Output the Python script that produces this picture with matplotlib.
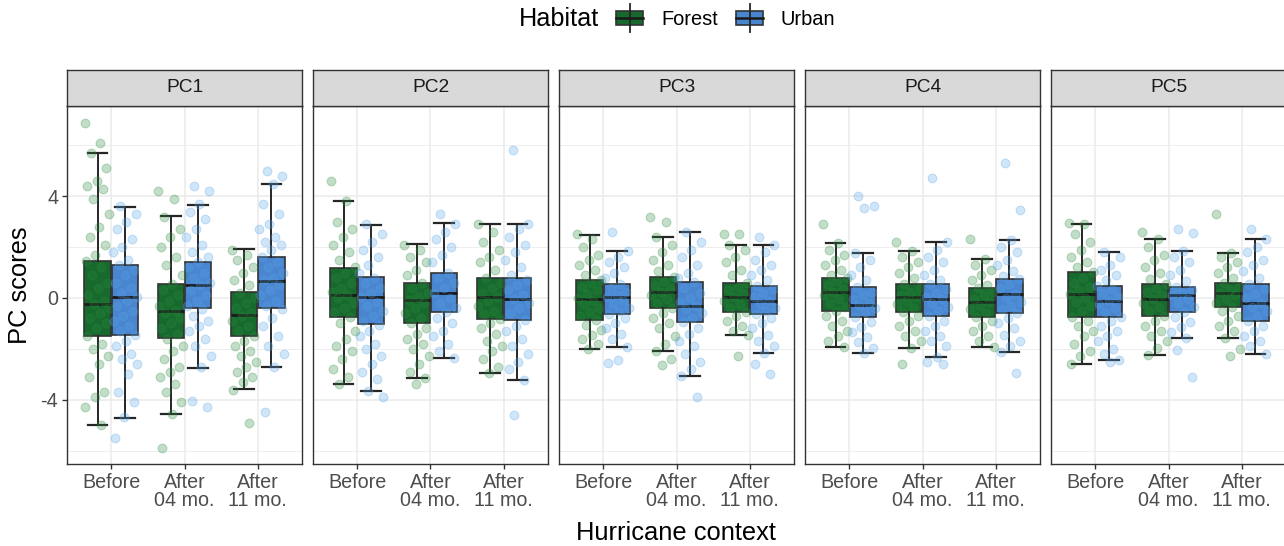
import matplotlib
matplotlib.use("Agg")
import matplotlib.pyplot as plt
import numpy as np
from matplotlib.patches import Rectangle
from matplotlib.lines import Line2D

plt.rcParams['font.family'] = ['Liberation Sans', 'DejaVu Sans']

panels = ["PC1", "PC2", "PC3", "PC4", "PC5"]
contexts = ["Before", "After\n04 mo.", "After\n11 mo."]
habitats = ["Forest", "Urban"]

# box stats per panel, 3 contexts each: whisker low, Q1, median, Q3, whisker high
forest_lo = [[-5.01, -4.55, -3.58], [-3.40, -3.16, -2.96], [-1.99, -2.09, -1.46], [-1.91, -1.97, -1.91], [-2.61, -2.23, -1.56]]
forest_q1 = [[-1.50, -1.59, -1.50], [-0.73, -0.97, -0.81], [-0.88, -0.41, -0.54], [-0.50, -0.54, -0.73], [-0.73, -0.71, -0.35]]
forest_med = [[-0.25, -0.50, -0.67], [0.12, -0.08, 0.05], [-0.03, 0.24, 0.05], [0.22, 0.03, -0.16], [0.14, -0.05, 0.21]]
forest_q3 = [[1.46, 0.56, 0.22], [1.18, 0.60, 0.79], [0.72, 0.81, 0.59], [0.79, 0.54, 0.39], [1.01, 0.56, 0.59]]
forest_hi = [[5.69, 3.21, 1.93], [3.82, 2.14, 2.90], [2.48, 2.39, 2.09], [2.15, 1.85, 1.52], [2.91, 2.32, 1.78]]

urban_lo = [[-4.71, -2.75, -2.70], [-3.66, -2.35, -3.24], [-1.94, -3.06, -2.15], [-2.15, -2.31, -2.12], [-2.44, -1.57, -2.20]]
urban_q1 = [[-1.44, -0.41, -0.41], [-1.02, -0.56, -0.87], [-0.63, -0.96, -0.64], [-0.76, -0.71, -0.60], [-0.73, -0.56, -0.92]]
urban_med = [[0.05, 0.51, 0.67], [0.03, 0.21, -0.05], [0.04, -0.31, -0.12], [-0.29, -0.05, 0.17], [-0.12, 0.10, -0.18]]
urban_q3 = [[1.31, 1.43, 1.63], [0.81, 1.00, 0.79], [0.55, 0.62, 0.49], [0.42, 0.54, 0.73], [0.49, 0.45, 0.54]]
urban_hi = [[3.58, 3.66, 4.49], [2.86, 2.94, 2.90], [1.86, 2.60, 2.09], [1.78, 2.19, 2.28], [1.82, 1.85, 2.32]]

# individual scores (read approximately), per context
forest_pc1 = [
    [6.9, 6.1, 5.7, 5.1, 4.6, 4.4, 4.3, 3.9, 3.3, 2.8, 2.4, 2.1, 1.7, 1.45, 1.2, 0.9, 0.6, 0.4, 0.1, -0.1, -0.25, -0.4, -0.6, -0.8, -1.0, -1.2, -1.5, -1.8, -2.0, -2.3, -2.6, -3.1, -3.7, -3.9, -4.3, -5.0],
    [4.2, 3.9, 3.2, 2.7, 2.4, 2.0, 1.6, 1.3, 0.9, 0.56, 0.3, 0.1, -0.1, -0.3, -0.5, -0.6, -0.8, -1.0, -1.2, -1.4, -1.6, -1.9, -2.1, -2.4, -2.7, -2.9, -3.1, -3.4, -3.7, -4.1, -4.55, -5.9],
    [1.9, 1.7, 1.5, 1.2, 1.0, 0.7, 0.5, 0.2, 0.0, -0.2, -0.4, -0.6, -0.7, -0.9, -1.1, -1.3, -1.5, -1.7, -1.9, -2.1, -2.3, -2.5, -2.7, -2.9, -3.1, -3.3, -3.6, -4.9],
]
urban_pc1 = [
    [3.6, 3.3, 3.0, 2.7, 2.3, 2.0, 1.8, 1.5, 1.3, 1.1, 0.9, 0.6, 0.4, 0.2, 0.05, -0.1, -0.3, -0.5, -0.7, -0.9, -1.1, -1.3, -1.45, -1.7, -1.9, -2.2, -2.4, -2.6, -3.0, -3.7, -4.1, -4.7, -5.5],
    [4.4, 4.2, 3.7, 3.4, 3.1, 2.7, 2.4, 2.1, 1.8, 1.6, 1.43, 1.2, 1.0, 0.8, 0.6, 0.5, 0.3, 0.1, -0.1, -0.3, -0.45, -0.7, -0.9, -1.1, -1.3, -1.6, -1.9, -2.3, -2.7, -4.05, -4.3],
    [5.0, 4.8, 4.5, 3.7, 3.3, 2.9, 2.7, 2.4, 2.2, 2.1, 1.9, 1.6, 1.4, 1.2, 1.0, 0.8, 0.7, 0.5, 0.3, 0.1, -0.1, -0.3, -0.45, -0.8, -1.1, -1.5, -1.9, -2.2, -2.7, -4.5],
]
forest_pc2 = [
    [4.6, 3.8, 3.0, 2.7, 2.4, 2.1, 1.8, 1.5, 1.2, 1.0, 0.8, 0.6, 0.4, 0.25, 0.12, 0.0, -0.2, -0.4, -0.55, -0.73, -1.0, -1.3, -1.6, -1.9, -2.1, -2.4, -2.8, -3.1, -3.4],
    [2.1, 1.9, 1.6, 1.4, 1.1, 0.9, 0.6, 0.4, 0.2, 0.05, -0.08, -0.2, -0.4, -0.6, -0.8, -0.97, -1.2, -1.4, -1.6, -1.8, -2.0, -2.3, -2.6, -2.9, -3.16, -3.4],
    [2.9, 2.6, 2.2, 1.9, 1.6, 1.4, 1.1, 0.79, 0.6, 0.4, 0.2, 0.05, -0.1, -0.3, -0.5, -0.65, -0.81, -1.0, -1.2, -1.4, -1.7, -1.9, -2.1, -2.4, -2.7, -2.96],
]
urban_pc2 = [
    [2.9, 2.5, 2.2, 1.9, 1.6, 1.3, 1.0, 0.8, 0.6, 0.4, 0.2, 0.03, -0.15, -0.3, -0.5, -0.7, -0.9, -1.05, -1.3, -1.5, -1.8, -2.0, -2.3, -2.6, -2.9, -3.2, -3.66, -3.9],
    [3.3, 2.9, 2.6, 2.3, 2.0, 1.7, 1.4, 1.0, 0.8, 0.6, 0.4, 0.21, 0.0, -0.2, -0.4, -0.56, -0.8, -1.0, -1.3, -1.5, -1.8, -2.1, -2.35],
    [5.8, 2.9, 2.7, 2.4, 2.1, 1.8, 1.5, 1.2, 0.9, 0.7, 0.5, 0.3, 0.1, -0.05, -0.2, -0.4, -0.6, -0.87, -1.1, -1.3, -1.6, -1.9, -2.2, -2.5, -2.8, -3.24, -4.6],
]
forest_pc3 = [
    [2.5, 2.3, 2.0, 1.7, 1.5, 1.3, 1.1, 0.9, 0.72, 0.6, 0.45, 0.3, 0.15, 0.0, -0.1, -0.25, -0.4, -0.55, -0.7, -0.88, -1.05, -1.25, -1.45, -1.6, -1.8, -1.99],
    [3.2, 3.0, 2.4, 2.1, 1.8, 1.5, 1.3, 1.05, 0.81, 0.65, 0.5, 0.35, 0.24, 0.1, -0.05, -0.2, -0.41, -0.6, -0.8, -1.0, -1.2, -1.5, -1.8, -2.09, -2.4, -2.65],
    [2.5, 2.5, 2.09, 1.9, 1.6, 1.4, 1.1, 0.9, 0.59, 0.45, 0.3, 0.15, 0.05, -0.1, -0.25, -0.4, -0.54, -0.7, -0.9, -1.1, -1.3, -1.46, -2.3],
]
urban_pc3 = [
    [2.6, 1.86, 1.6, 1.4, 1.2, 1.0, 0.8, 0.55, 0.4, 0.25, 0.1, 0.04, -0.1, -0.25, -0.4, -0.5, -0.63, -0.8, -1.0, -1.2, -1.4, -1.6, -1.94, -2.45, -2.55],
    [2.6, 2.2, 1.9, 1.6, 1.3, 1.0, 0.8, 0.62, 0.4, 0.2, 0.0, -0.15, -0.31, -0.45, -0.6, -0.8, -0.96, -1.2, -1.4, -1.7, -1.9, -2.2, -2.5, -2.8, -3.06, -3.9],
    [2.4, 2.09, 1.8, 1.5, 1.3, 1.1, 0.9, 0.7, 0.49, 0.35, 0.2, 0.05, -0.12, -0.25, -0.4, -0.5, -0.64, -0.8, -1.0, -1.2, -1.45, -1.7, -1.9, -2.15, -2.6, -3.0],
]
forest_pc4 = [
    [2.9, 2.15, 1.9, 1.7, 1.5, 1.3, 1.1, 0.9, 0.79, 0.65, 0.5, 0.35, 0.22, 0.1, -0.05, -0.2, -0.35, -0.5, -0.7, -0.9, -1.1, -1.3, -1.5, -1.7, -1.91],
    [2.2, 1.85, 1.6, 1.4, 1.2, 1.0, 0.8, 0.54, 0.4, 0.25, 0.1, 0.03, -0.1, -0.25, -0.4, -0.54, -0.7, -0.9, -1.1, -1.3, -1.5, -1.7, -1.97, -2.6],
    [2.3, 1.52, 1.3, 1.1, 0.9, 0.7, 0.5, 0.39, 0.25, 0.1, -0.05, -0.16, -0.3, -0.45, -0.6, -0.73, -0.9, -1.1, -1.3, -1.5, -1.7, -1.91],
]
urban_pc4 = [
    [4.0, 3.6, 3.55, 1.78, 1.5, 1.2, 0.9, 0.7, 0.42, 0.25, 0.1, -0.05, -0.2, -0.29, -0.4, -0.55, -0.76, -0.95, -1.15, -1.35, -1.55, -1.75, -1.95, -2.15],
    [4.7, 2.19, 1.9, 1.6, 1.4, 1.1, 0.9, 0.7, 0.54, 0.35, 0.2, 0.05, -0.05, -0.2, -0.35, -0.5, -0.71, -0.9, -1.1, -1.3, -1.5, -1.7, -1.9, -2.31, -2.5, -2.6],
    [5.3, 3.45, 2.28, 2.0, 1.8, 1.5, 1.3, 1.05, 0.85, 0.73, 0.55, 0.4, 0.17, 0.0, -0.15, -0.3, -0.45, -0.6, -0.8, -1.0, -1.2, -1.45, -1.7, -1.9, -2.12, -2.96],
]
forest_pc5 = [
    [2.95, 2.91, 2.5, 2.2, 1.9, 1.6, 1.4, 1.2, 1.01, 0.8, 0.6, 0.45, 0.3, 0.14, 0.0, -0.15, -0.3, -0.5, -0.73, -0.9, -1.1, -1.3, -1.5, -1.8, -2.1, -2.3, -2.61],
    [2.6, 2.32, 2.0, 1.7, 1.5, 1.2, 1.0, 0.75, 0.56, 0.4, 0.25, 0.1, -0.05, -0.2, -0.35, -0.5, -0.71, -0.9, -1.1, -1.3, -1.5, -1.7, -1.95, -2.23],
    [3.3, 1.78, 1.6, 1.4, 1.2, 1.0, 0.8, 0.59, 0.45, 0.3, 0.21, 0.1, -0.05, -0.2, -0.35, -0.5, -0.7, -0.9, -1.1, -1.3, -1.56, -2.0, -2.3],
]
urban_pc5 = [
    [1.82, 1.6, 1.3, 1.1, 0.9, 0.7, 0.49, 0.35, 0.2, 0.05, -0.12, -0.25, -0.4, -0.55, -0.73, -0.9, -1.1, -1.3, -1.5, -1.7, -2.0, -2.2, -2.44, -2.5],
    [2.7, 2.55, 1.85, 1.6, 1.4, 1.1, 0.9, 0.65, 0.45, 0.3, 0.2, 0.1, -0.05, -0.2, -0.35, -0.56, -0.75, -0.95, -1.15, -1.35, -1.57, -2.05, -3.1],
    [2.7, 2.32, 2.0, 1.8, 1.5, 1.3, 1.05, 0.8, 0.54, 0.35, 0.15, 0.0, -0.18, -0.35, -0.5, -0.7, -0.92, -1.1, -1.3, -1.5, -1.7, -1.9, -2.20],
]

forest_pts = [forest_pc1, forest_pc2, forest_pc3, forest_pc4, forest_pc5]
urban_pts = [urban_pc1, urban_pc2, urban_pc3, urban_pc4, urban_pc5]

box_fill = {"Forest": "#17692e", "Urban": "#4a85cf"}
pt_col = {"Forest": "#2a8a3c", "Urban": "#55a2e6"}

W, H = 1284, 546
fig = plt.figure(figsize=(W / 100, H / 100), dpi=100)

def fx(px):
    return px / W

def fy(py):
    return 1 - py / H

panel_left = 67.3
panel_w = 234.4
panel_gap = 11.6
panel_top = 106
panel_bot = 464
strip_top = 70

grey20 = "#333333"
txt_grey = "#4d4d4d"

for p, name in enumerate(panels):
    left = panel_left + p * (panel_w + panel_gap)
    ax = fig.add_axes([fx(left), fy(panel_bot), fx(panel_w), (panel_bot - panel_top) / H])
    ax.set_xlim(0.4, 3.6)
    ax.set_ylim(-6.53, 7.55)

    # grid
    for yv in [-6, -2, 2, 6]:
        ax.axhline(yv, color="#ebebeb", lw=0.6, zorder=0)
    for yv in [-4, 0, 4]:
        ax.axhline(yv, color="#ebebeb", lw=1.1, zorder=0)
    for xv in [1, 2, 3]:
        ax.axvline(xv, color="#ebebeb", lw=1.1, zorder=0)

    for h, hab in enumerate(habitats):
        if hab == "Forest":
            lo, q1, med, q3, hi = forest_lo[p], forest_q1[p], forest_med[p], forest_q3[p], forest_hi[p]
            pts = forest_pts[p]
        else:
            lo, q1, med, q3, hi = urban_lo[p], urban_q1[p], urban_med[p], urban_q3[p], urban_hi[p]
            pts = urban_pts[p]
        offset = -0.1875 if h == 0 else 0.1875
        pos = [c + 1 + offset for c in range(3)]
        stats = [dict(whislo=lo[c], q1=q1[c], med=med[c], q3=q3[c], whishi=hi[c], fliers=[])
                 for c in range(3)]
        ax.bxp(stats, positions=pos, widths=0.36, patch_artist=True, showfliers=False,
               capwidths=0.27, manage_ticks=False,
               boxprops=dict(facecolor=box_fill[hab], edgecolor=grey20, lw=1.2),
               medianprops=dict(color="#1a1a1a", lw=2.0),
               whiskerprops=dict(color="#262626", lw=1.4),
               capprops=dict(color="#262626", lw=1.6), zorder=2)
        for c in range(3):
            vals = np.array(pts[c])
            n = len(vals)
            jit = ((np.arange(n) * 0.618034 + 0.31 * h) % 1 - 0.5) * 0.34
            ax.scatter(pos[c] + jit, vals, s=40, facecolor=pt_col[hab], alpha=0.28,
                       edgecolor=pt_col[hab], linewidth=0.8, zorder=3)

    for s in ax.spines.values():
        s.set_color(grey20)
        s.set_linewidth(1.0)
    ax.set_xticks([1, 2, 3])
    ax.set_xticklabels(contexts, fontsize=14.2, color=txt_grey, linespacing=0.95)
    ax.tick_params(axis="x", length=3.5, width=1.0, color=grey20, pad=3)
    ax.set_yticks([-4, 0, 4])
    if p == 0:
        ax.set_yticklabels(["-4", "0", "4"], fontsize=14.2, color=txt_grey)
        ax.tick_params(axis="y", length=3.5, width=1.0, color=grey20, pad=3)
    else:
        ax.tick_params(axis="y", length=0, labelleft=False)

    # facet strip
    sax = fig.add_axes([fx(left), fy(panel_top), fx(panel_w), (panel_top - strip_top) / H])
    sax.set_facecolor("#d9d9d9")
    sax.set_xticks([])
    sax.set_yticks([])
    for s in sax.spines.values():
        s.set_color(grey20)
        s.set_linewidth(1.0)
    sax.text(0.5, 0.5, name, ha="center", va="center", fontsize=13.8, color="#1a1a1a",
             transform=sax.transAxes)

fig.text(fx(20), fy(285), "PC scores", rotation=90, ha="center", va="center", fontsize=18.4)
fig.text(fx(676), fy(533), "Hurricane context", ha="center", va="center", fontsize=18.4)

# legend on top
fig.text(fx(519), fy(19.5), "Habitat", ha="left", va="center", fontsize=18.2)
for hab, kx, tx in [("Forest", 616, 661), ("Urban", 736, 781)]:
    fig.add_artist(Line2D([fx(kx + 13.5)] * 2, [fy(4), fy(32)], color="#262626", lw=1.3,
                          transform=fig.transFigure))
    fig.add_artist(Rectangle((fx(kx), fy(25)), fx(27), 14 / H, facecolor=box_fill[hab],
                             edgecolor=grey20, lw=1.2, transform=fig.transFigure))
    fig.add_artist(Line2D([fx(kx), fx(kx + 27)], [fy(18)] * 2, color="#1a1a1a", lw=1.8,
                          transform=fig.transFigure))
    fig.text(fx(tx), fy(19.5), hab, ha="left", va="center", fontsize=14.4)

fig.savefig("out.png", dpi=100)
